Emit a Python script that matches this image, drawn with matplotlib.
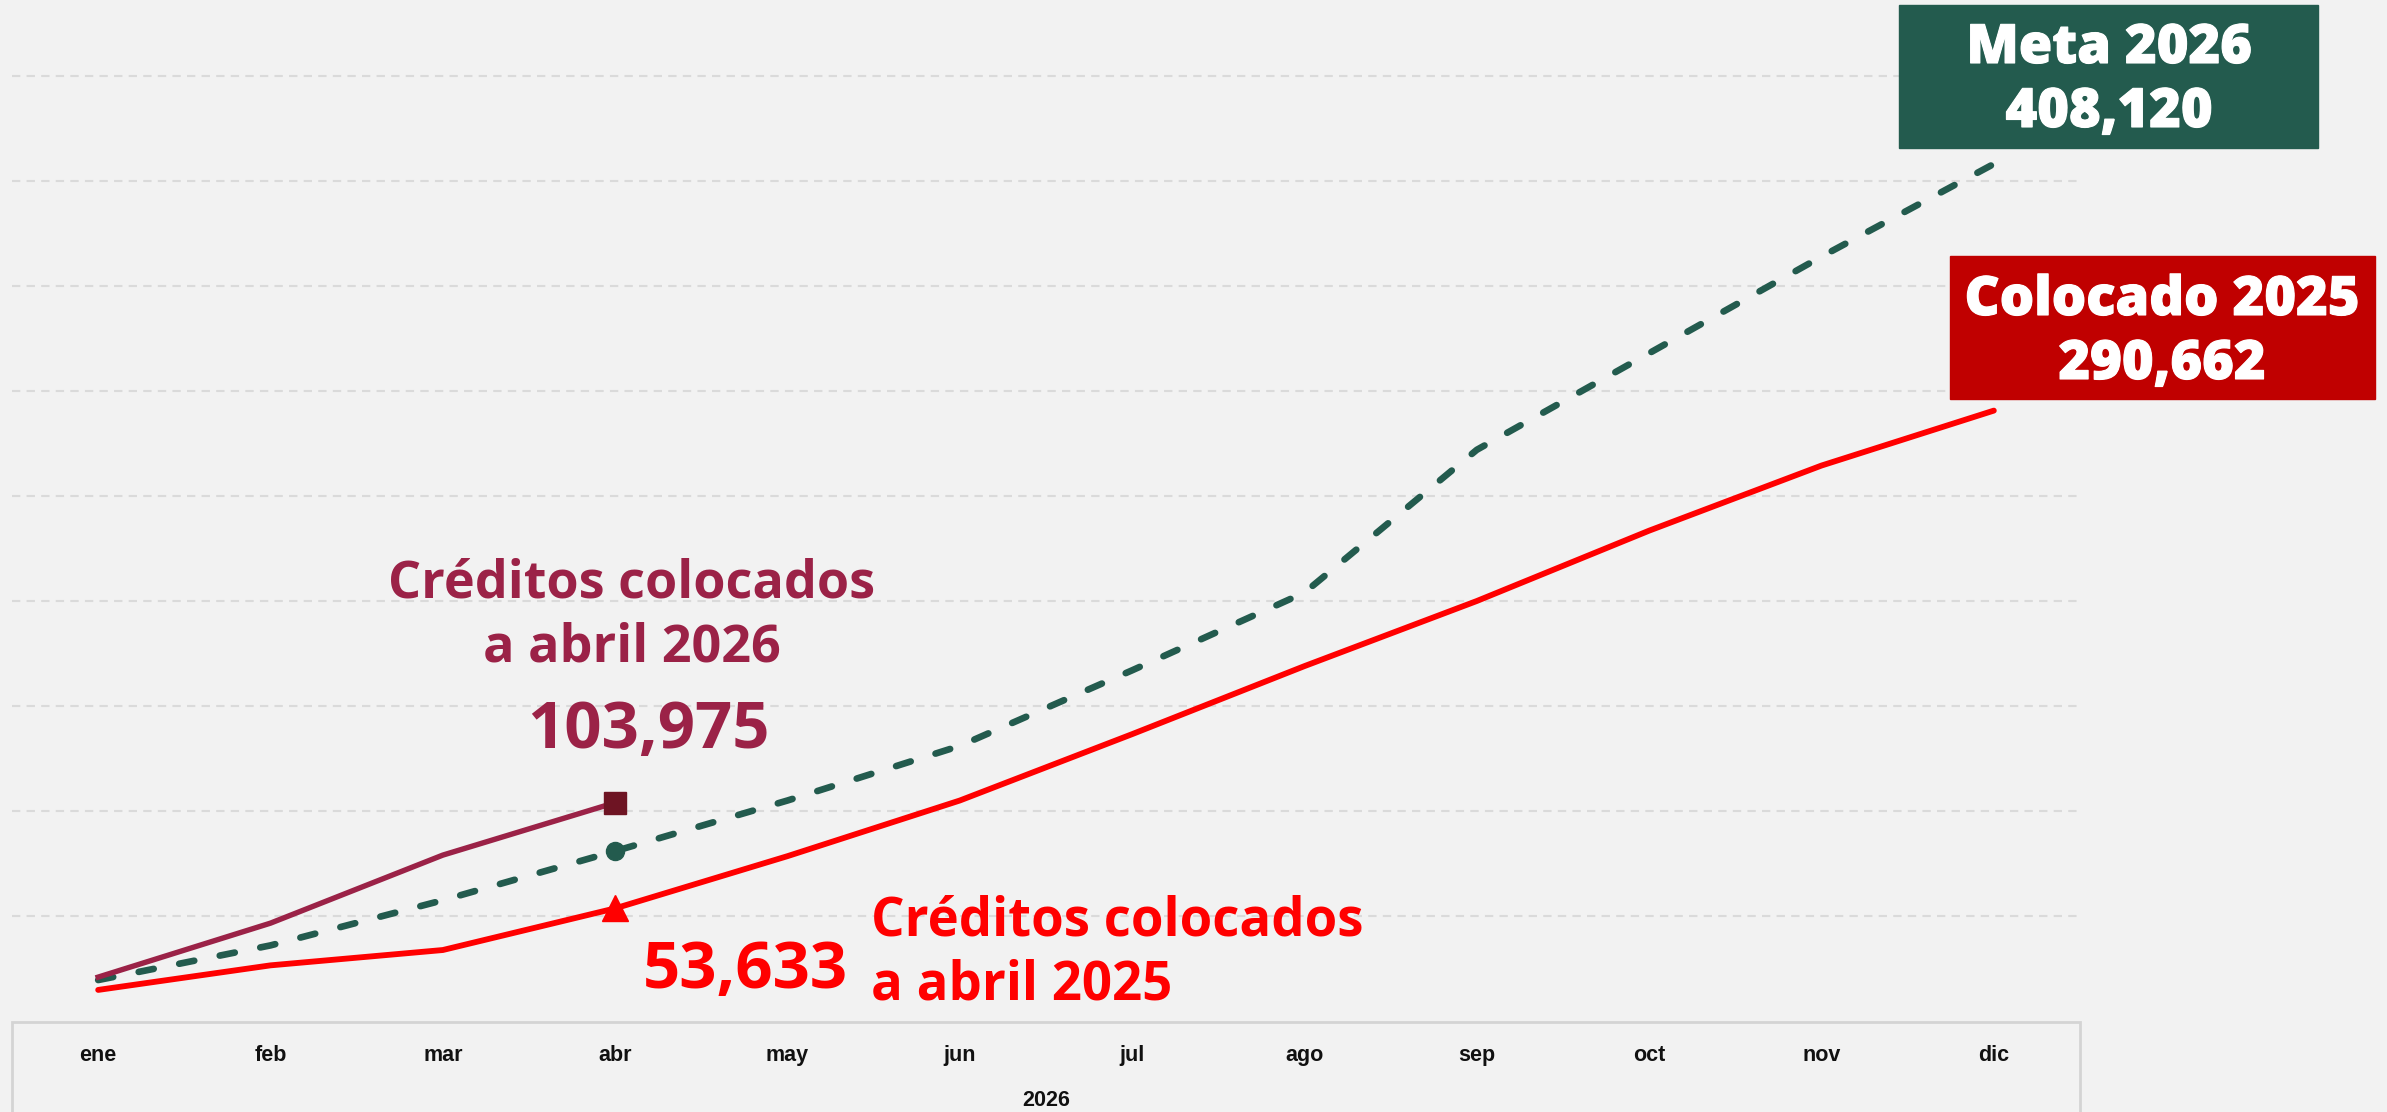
import matplotlib.pyplot as plt
import matplotlib.patheffects as pe
from matplotlib.patches import Rectangle

# datos
meses = ['ene', 'feb', 'mar', 'abr', 'may', 'jun', 'jul', 'ago', 'sep', 'oct', 'nov', 'dic']
colocado_2025 = [14800, 26500, 33800, 53633, 78500, 105000, 136600, 169000, 200000, 233500, 264500, 290662]
meta_2026 = [19500, 36000, 57500, 80900, 105000, 131000, 167000, 204000, 272000, 318000, 364000, 408120]
colocado_2026 = [20900, 46600, 79000, 103975]
anio = '2026'

W, H = 2387, 1112

plt.rcParams['font.family'] = ['Open Sans', 'DejaVu Sans']


def pos(x, y):
    # pixeles de la imagen -> fraccion de figura
    return x / W, 1 - y / H


fig = plt.figure(figsize=(W / 100, H / 100), dpi=100, facecolor='#f2f2f2')
ax = fig.add_axes([12 / W, 1 - 1021 / H, 2068 / W, 1021 / H])
ax.set_facecolor('none')

x = list(range(len(meses)))
ax.plot(x, colocado_2025, color='#ff0000', lw=4.2, solid_capstyle='round',
        solid_joinstyle='round', marker='^', markevery=[3], ms=19, zorder=3)
ax.plot(x, meta_2026, color='#235b4e', lw=4.8, ls=(0, (2.3, 3.9)),
        dash_capstyle='round', marker='o', markevery=[3], ms=13, zorder=3)
ax.plot(x[:len(colocado_2026)], colocado_2026, color='#9b2247', lw=3.9,
        solid_joinstyle='round', marker='s', markevery=[3], ms=16,
        mfc='#6e1423', mec='#6e1423', zorder=4)

ax.set_xlim(-0.5, 11.5)
ax.set_ylim(0, 486190)
ax.set_yticks(range(50000, 450001, 50000))
ax.grid(axis='y', color='#dadada', lw=1.5, ls=(0, (4, 3)))
ax.set_axisbelow(True)
ax.tick_params(axis='y', length=0, labelleft=False)
ax.set_xticks(x)
ax.set_xticklabels(meses, family='Liberation Sans', fontweight='bold', fontsize=15.5, color='#111111')
ax.tick_params(axis='x', length=0, pad=17)
for s in ax.spines.values():
    s.set_visible(False)

# recuadro del eje x
fig.add_artist(Rectangle(pos(12, 1130), 2068 / W, (1130 - 1022) / H, transform=fig.transFigure,
                         fill=False, ec='#d4d4d4', lw=2))
fig.text(*pos(1046, 1100), anio, ha='center', va='center', family='Liberation Sans',
         fontweight='bold', fontsize=15.5, color='#111111')

# textos 2026
morado = '#9b2247'
fig.text(*pos(632, 597), 'Créditos colocados', ha='center', va='baseline',
         fontsize=37.5, fontweight='bold', color=morado)
fig.text(*pos(632, 662), 'a abril 2026', ha='center', va='baseline',
         fontsize=37.5, fontweight='bold', color=morado)
fig.text(*pos(648, 748), f'{colocado_2026[-1]:,}', ha='center', va='baseline',
         fontsize=47, fontweight='bold', color=morado)

# textos 2025
rojo = '#ff0000'
fig.text(*pos(745, 988), f'{colocado_2025[3]:,}', ha='center', va='baseline',
         fontsize=47, fontweight='bold', color=rojo)
fig.text(*pos(871, 936), 'Créditos colocados', ha='left', va='baseline',
         fontsize=38, fontweight='bold', color=rojo)
fig.text(*pos(871, 999), 'a abril 2025', ha='left', va='baseline',
         fontsize=38, fontweight='bold', color=rojo)

# cajas
grueso = [pe.withStroke(linewidth=0.8, foreground='white')]
fig.add_artist(Rectangle(pos(1899, 148), (2318 - 1899) / W, 143 / H,
                         transform=fig.transFigure, color='#235b4e'))
fig.text(*pos(2109, 63), 'Meta 2026', ha='center', va='baseline',
         fontsize=39, fontweight='heavy', color='white', path_effects=grueso)
fig.text(*pos(2109, 127), f'{meta_2026[-1]:,}', ha='center', va='baseline',
         fontsize=39, fontweight='heavy', color='white', path_effects=grueso)

fig.add_artist(Rectangle(pos(1950, 399), (2375 - 1950) / W, 143 / H,
                         transform=fig.transFigure, color='#c00000'))
fig.text(*pos(2162, 315), 'Colocado 2025', ha='center', va='baseline',
         fontsize=39, fontweight='heavy', color='white', path_effects=grueso)
fig.text(*pos(2162, 379), f'{colocado_2025[-1]:,}', ha='center', va='baseline',
         fontsize=39, fontweight='heavy', color='white', path_effects=grueso)

fig.savefig('out.png', dpi=100, facecolor=fig.get_facecolor())
